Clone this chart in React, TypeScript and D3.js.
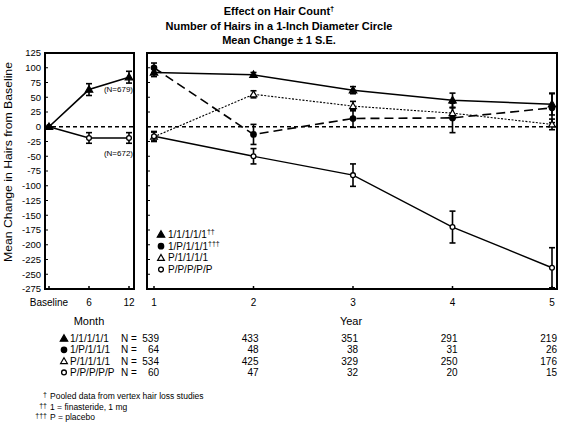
import React from "react";
import * as d3 from "d3";

const yTicks = [125, 100, 75, 50, 25, 0, -25, -50, -75, -100, -125, -150, -175, -200, -225, -250, -275];
const monthTicks = [0, 6, 12];
const monthLabels = ["Baseline", "6", "12"];
const years = [1, 2, 3, 4, 5];

// Left panel (months)
const finMonthVals = [0, 63, 84];
const finMonthErr = [0, 10, 10];
const plaMonthVals = [0, -19, -19];
const plaMonthErr = [0, 9, 9];

// Right panel (years)
const seriesNames = ["1/1/1/1/1", "1/P/1/1/1", "P/1/1/1/1", "P/P/P/P/P"];
const legendSups = ["††", "†††", "", ""];
const s1Vals = [92, 88, 62, 45, 38];
const s1Err = [7, 4, 6, 12, 18];
const s2Vals = [100, -13, 14, 15, 32];
const s2Err = [8, 17, 15, 25, 25];
const s3Vals = [-17, 55, 35, 23, 4];
const s3Err = [8, 6, 8, 9, 9];
const s4Vals = [-16, -50, -82, -170, -239];
const s4Err = [8, 13, 19, 27, 34];

const nCounts1 = [539, 433, 351, 291, 219];
const nCounts2 = [64, 48, 38, 31, 26];
const nCounts3 = [534, 425, 329, 250, 176];
const nCounts4 = [60, 47, 32, 20, 15];

const footDaggers = ["†", "††", "†††"];
const footTexts = ["Pooled data from vertex hair loss studies", "1 = finasteride, 1 mg", "P = placebo"];

const FONT = "'Liberation Sans', Arial, sans-serif";

type Marker = "triUp" | "circle" | "triOpen" | "circOpen";

function MarkerShape({ x, y, kind }: { x: number; y: number; kind: Marker }) {
  if (kind === "triUp" || kind === "triOpen") {
    const p = d3.symbol().type(d3.symbolTriangle).size(kind === "triUp" ? 24 : 20)();
    return (
      <path
        d={p || ""}
        transform={`translate(${x},${y + 0.5})`}
        fill={kind === "triUp" ? "#000" : "#fff"}
        stroke="#000"
        strokeWidth={1.2}
      />
    );
  }
  return (
    <circle
      cx={x}
      cy={y}
      r={kind === "circle" ? 2.7 : 2.4}
      fill={kind === "circle" ? "#000" : "#fff"}
      stroke="#000"
      strokeWidth={1.3}
    />
  );
}

function ErrBar({ x, y0, y1 }: { x: number; y0: number; y1: number }) {
  return (
    <g stroke="#000" strokeWidth={1.6}>
      <line x1={x} x2={x} y1={y0} y2={y1} />
      <line x1={x - 3} x2={x + 3} y1={y0} y2={y0} />
      <line x1={x - 3} x2={x + 3} y1={y1} y2={y1} />
    </g>
  );
}

export default function App() {
  const W = 562;
  const H = 425;
  const y = d3.scaleLinear().domain([-275, 125]).range([289, 53]);
  const xm = d3.scaleLinear().domain([0, 12]).range([49, 129]);
  const xy = d3.scaleLinear().domain([1, 5]).range([154, 552]);
  const L = { x0: 45, x1: 134 };
  const R = { x0: 147, x1: 557 };
  const top = y(125);
  const bot = y(-275);

  const lineM = d3.line<number>().x((_, i) => xm(monthTicks[i])).y((v) => y(v));
  const lineY = d3.line<number>().x((_, i) => xy(years[i])).y((v) => y(v));

  const series = [
    { vals: s1Vals, err: s1Err, marker: "triUp" as Marker, dash: undefined as string | undefined, w: 1.5 },
    { vals: s2Vals, err: s2Err, marker: "circle" as Marker, dash: "9,5", w: 1.6 },
    { vals: s3Vals, err: s3Err, marker: "triOpen" as Marker, dash: "2,1.5", w: 1.1 },
    { vals: s4Vals, err: s4Err, marker: "circOpen" as Marker, dash: undefined, w: 1.4 },
  ];
  const counts = [nCounts1, nCounts2, nCounts3, nCounts4];

  return (
    <svg width={W} height={H} style={{ display: "block", position: "absolute", left: 0, top: 0, background: "#fff" }} fontFamily={FONT}>
      {/* Titles */}
      <g textAnchor="middle" fontWeight="bold" fontSize={11}>
        <text x={279} y={15}>
          Effect on Hair Count<tspan fontSize={7.5} dy={-4}>†</tspan>
        </text>
        <text x={279} y={30}>Number of Hairs in a 1-Inch Diameter Circle</text>
        <text x={279} y={44}>Mean Change ± 1 S.E.</text>
      </g>

      {/* Y axis title */}
      <text
        transform={`translate(12,162) rotate(-90)`}
        textAnchor="middle"
        fontSize={11}
        textLength={200}
        lengthAdjust="spacingAndGlyphs"
      >
        Mean Change in Hairs from Baseline
      </text>

      {/* Y tick labels */}
      <g fontSize={9.5} textAnchor="end">
        {yTicks.map((t) => (
          <text key={t} x={41} y={y(t) + 3.3}>
            {t}
          </text>
        ))}
      </g>

      {/* Zero dashed lines */}
      <line x1={L.x0} x2={L.x1} y1={y(0)} y2={y(0)} stroke="#000" strokeWidth={1.4} strokeDasharray="4,3" />
      <line x1={R.x0} x2={R.x1} y1={y(0)} y2={y(0)} stroke="#000" strokeWidth={1.4} strokeDasharray="4,3" />

      {/* Panel frames */}
      <rect x={L.x0} y={top} width={L.x1 - L.x0} height={bot - top} fill="none" stroke="#000" strokeWidth={2} />
      <rect x={R.x0} y={top} width={R.x1 - R.x0} height={bot - top} fill="none" stroke="#000" strokeWidth={2} />

      {/* inward y ticks */}
      {yTicks.map((t) => (
        <g key={"yt" + t} stroke="#000" strokeWidth={1}>
          <line x1={L.x0} x2={L.x0 + 3} y1={y(t)} y2={y(t)} />
          <line x1={R.x0} x2={R.x0 + 3} y1={y(t)} y2={y(t)} />
        </g>
      ))}
      {/* inward x ticks */}
      {monthTicks.map((m) => (
        <line key={"mt" + m} x1={xm(m)} x2={xm(m)} y1={bot} y2={bot - 3} stroke="#000" strokeWidth={1.5} />
      ))}
      {years.map((yr) => (
        <line key={"yrt" + yr} x1={xy(yr)} x2={xy(yr)} y1={bot} y2={bot - 3} stroke="#000" strokeWidth={1.5} />
      ))}

      {/* X tick labels */}
      <g fontSize={10} textAnchor="middle">
        {monthTicks.map((m, i) => (
          <text key={"ml" + m} x={xm(m)} y={306}>
            {monthLabels[i]}
          </text>
        ))}
        {years.map((yr) => (
          <text key={"yl" + yr} x={xy(yr)} y={306}>
            {yr}
          </text>
        ))}
        <text x={89} y={325} fontSize={11}>Month</text>
        <text x={351} y={325} fontSize={11}>Year</text>
      </g>

      {/* Left panel data */}
      <path d={lineM(finMonthVals) || ""} fill="none" stroke="#000" strokeWidth={1.6} />
      <path d={lineM(plaMonthVals) || ""} fill="none" stroke="#000" strokeWidth={1.4} />
      {finMonthVals.map((v, i) =>
        finMonthErr[i] > 0 ? (
          <ErrBar key={"fe" + i} x={xm(monthTicks[i])} y0={y(v + finMonthErr[i])} y1={y(v - finMonthErr[i])} />
        ) : null
      )}
      {plaMonthVals.map((v, i) =>
        plaMonthErr[i] > 0 ? (
          <ErrBar key={"pe" + i} x={xm(monthTicks[i])} y0={y(v + plaMonthErr[i])} y1={y(v - plaMonthErr[i])} />
        ) : null
      )}
      {plaMonthVals.map((v, i) => (
        <MarkerShape key={"pm" + i} x={xm(monthTicks[i])} y={y(v)} kind="circOpen" />
      ))}
      {finMonthVals.map((v, i) => (
        <MarkerShape key={"fm" + i} x={xm(monthTicks[i])} y={y(v)} kind="triUp" />
      ))}
      <g fontSize={8} textAnchor="end">
        <text x={133} y={y(64) + 3}>(N=679)</text>
        <text x={133} y={y(-45) + 3}>(N=672)</text>
      </g>

      {/* Right panel data */}
      {series.map((s, si) => (
        <path key={"sl" + si} d={lineY(s.vals) || ""} fill="none" stroke="#000" strokeWidth={s.w} strokeDasharray={s.dash} />
      ))}
      {series.map((s, si) =>
        s.vals.map((v, i) => (
          <ErrBar key={`se${si}-${i}`} x={xy(years[i])} y0={y(v + s.err[i])} y1={y(v - s.err[i])} />
        ))
      )}
      {series.map((s, si) =>
        s.vals.map((v, i) => <MarkerShape key={`sm${si}-${i}`} x={xy(years[i])} y={y(v)} kind={s.marker} />)
      )}

      {/* Legend */}
      <g fontSize={10}>
        {seriesNames.map((n, i) => {
          const ly = 238 + i * 11.7;
          return (
            <g key={"lg" + i}>
              <MarkerShape x={161} y={ly - 3.5} kind={series[i].marker} />
              <text x={168} y={ly}>
                {n}
                {legendSups[i] ? (
                  <tspan fontSize={7} dy={-4}>
                    {legendSups[i]}
                  </tspan>
                ) : null}
              </text>
            </g>
          );
        })}
      </g>

      {/* N table */}
      <g fontSize={10}>
        {seriesNames.map((n, i) => {
          const ty = 342 + i * 11.3;
          return (
            <g key={"tb" + i}>
              <MarkerShape x={64} y={ty - 3.5} kind={series[i].marker} />
              <text x={70} y={ty}>{n}</text>
              <text x={121} y={ty}>N =</text>
              {counts[i].map((c, j) => (
                <text key={"c" + j} x={xy(years[j]) + 5} y={ty} textAnchor="end">
                  {c}
                </text>
              ))}
            </g>
          );
        })}
      </g>

      {/* Footnotes */}
      <g fontSize={8.5}>
        {footTexts.map((t, i) => {
          const fy = 399 + i * 10.5;
          return (
            <g key={"fn" + i}>
              <text x={47} y={fy - 2} fontSize={7} textAnchor="end">
                {footDaggers[i]}
              </text>
              <text x={50} y={fy}>{t}</text>
            </g>
          );
        })}
      </g>
    </svg>
  );
}
